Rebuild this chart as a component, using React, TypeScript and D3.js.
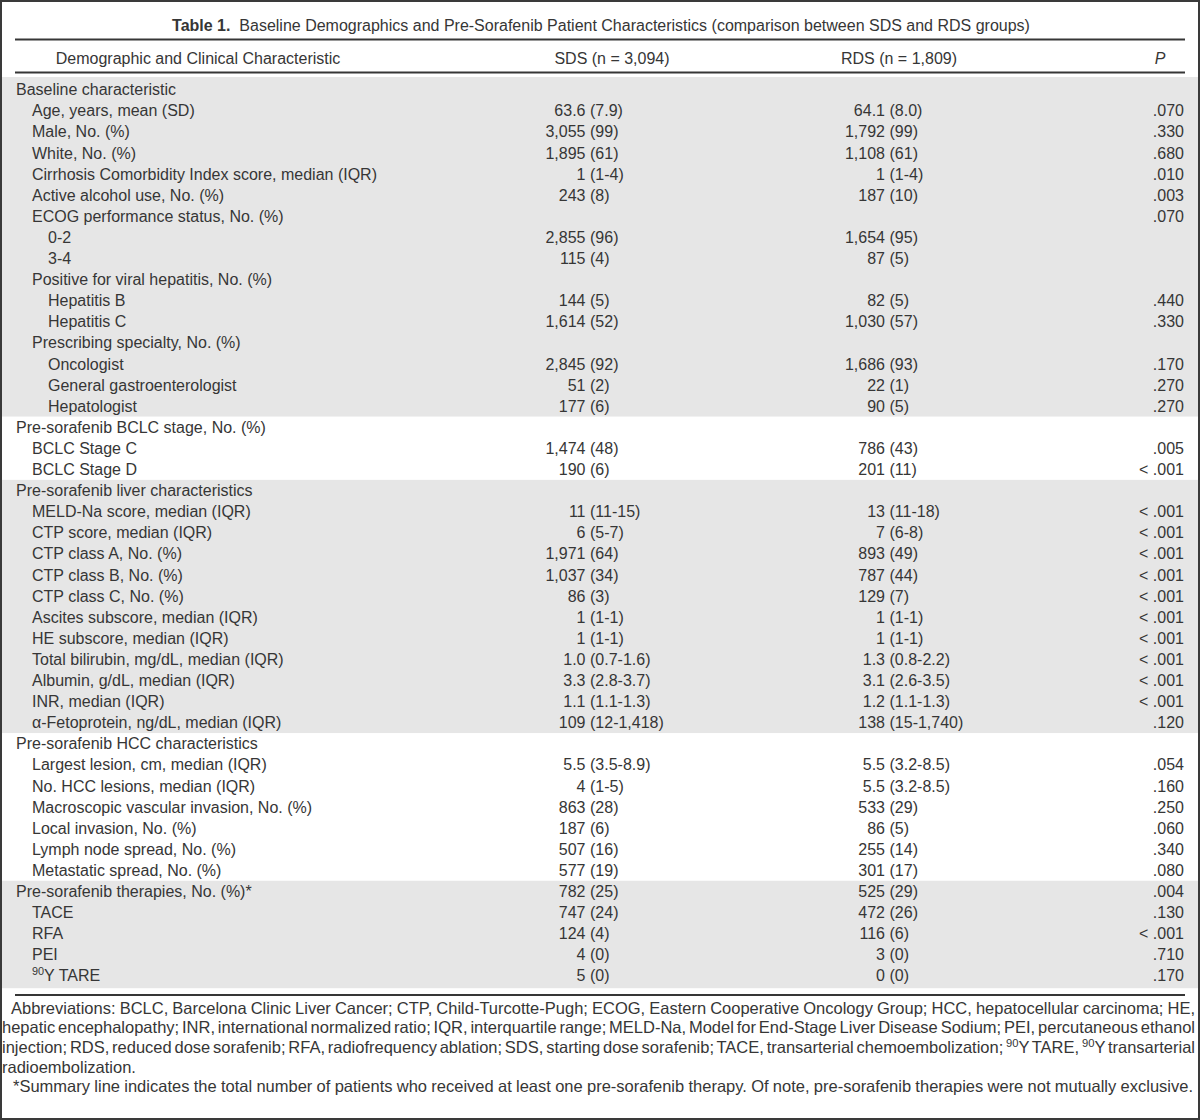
import { useEffect, useRef } from "react";
import * as d3 from "d3";

// table rows: indent level, label, SDS value, RDS value, P value
const levels = [
  0, 1, 1, 1, 1, 1, 1, 2, 2, 1, 2, 2, 1, 2, 2, 2,
  0, 1, 1,
  0, 1, 1, 1, 1, 1, 1, 1, 1, 1, 1, 1,
  0, 1, 1, 1, 1, 1, 1,
  0, 1, 1, 1, 1,
];

const labels = [
  "Baseline characteristic",
  "Age, years, mean (SD)",
  "Male, No. (%)",
  "White, No. (%)",
  "Cirrhosis Comorbidity Index score, median (IQR)",
  "Active alcohol use, No. (%)",
  "ECOG performance status, No. (%)",
  "0-2",
  "3-4",
  "Positive for viral hepatitis, No. (%)",
  "Hepatitis B",
  "Hepatitis C",
  "Prescribing specialty, No. (%)",
  "Oncologist",
  "General gastroenterologist",
  "Hepatologist",
  "Pre-sorafenib BCLC stage, No. (%)",
  "BCLC Stage C",
  "BCLC Stage D",
  "Pre-sorafenib liver characteristics",
  "MELD-Na score, median (IQR)",
  "CTP score, median (IQR)",
  "CTP class A, No. (%)",
  "CTP class B, No. (%)",
  "CTP class C, No. (%)",
  "Ascites subscore, median (IQR)",
  "HE subscore, median (IQR)",
  "Total bilirubin, mg/dL, median (IQR)",
  "Albumin, g/dL, median (IQR)",
  "INR, median (IQR)",
  "α-Fetoprotein, ng/dL, median (IQR)",
  "Pre-sorafenib HCC characteristics",
  "Largest lesion, cm, median (IQR)",
  "No. HCC lesions, median (IQR)",
  "Macroscopic vascular invasion, No. (%)",
  "Local invasion, No. (%)",
  "Lymph node spread, No. (%)",
  "Metastatic spread, No. (%)",
  "Pre-sorafenib therapies, No. (%)*",
  "TACE",
  "RFA",
  "PEI",
  "^90Y TARE",
];

const sdsValues = [
  "", "63.6 (7.9)", "3,055 (99)", "1,895 (61)", "1 (1-4)", "243 (8)", "",
  "2,855 (96)", "115 (4)", "", "144 (5)", "1,614 (52)", "", "2,845 (92)",
  "51 (2)", "177 (6)",
  "", "1,474 (48)", "190 (6)",
  "", "11 (11-15)", "6 (5-7)", "1,971 (64)", "1,037 (34)", "86 (3)",
  "1 (1-1)", "1 (1-1)", "1.0 (0.7-1.6)", "3.3 (2.8-3.7)", "1.1 (1.1-1.3)",
  "109 (12-1,418)",
  "", "5.5 (3.5-8.9)", "4 (1-5)", "863 (28)", "187 (6)", "507 (16)", "577 (19)",
  "782 (25)", "747 (24)", "124 (4)", "4 (0)", "5 (0)",
];

const rdsValues = [
  "", "64.1 (8.0)", "1,792 (99)", "1,108 (61)", "1 (1-4)", "187 (10)", "",
  "1,654 (95)", "87 (5)", "", "82 (5)", "1,030 (57)", "", "1,686 (93)",
  "22 (1)", "90 (5)",
  "", "786 (43)", "201 (11)",
  "", "13 (11-18)", "7 (6-8)", "893 (49)", "787 (44)", "129 (7)",
  "1 (1-1)", "1 (1-1)", "1.3 (0.8-2.2)", "3.1 (2.6-3.5)", "1.2 (1.1-1.3)",
  "138 (15-1,740)",
  "", "5.5 (3.2-8.5)", "5.5 (3.2-8.5)", "533 (29)", "86 (5)", "255 (14)", "301 (17)",
  "525 (29)", "472 (26)", "116 (6)", "3 (0)", "0 (0)",
];

const pValues = [
  "", ".070", ".330", ".680", ".010", ".003", ".070", "", "", "", ".440", ".330",
  "", ".170", ".270", ".270",
  "", ".005", "< .001",
  "", "< .001", "< .001", "< .001", "< .001", "< .001", "< .001", "< .001",
  "< .001", "< .001", "< .001", ".120",
  "", ".054", ".160", ".250", ".060", ".340", ".080",
  ".004", ".130", "< .001", ".710", ".170",
];

// shaded sections: [first row, last row]
const shaded = [
  [0, 15],
  [19, 30],
  [38, 42],
];

const headers = [
  "Demographic and Clinical Characteristic",
  "SDS (n = 3,094)",
  "RDS (n = 1,809)",
  "P",
];

const footLines = [
  "Abbreviations: BCLC, Barcelona Clinic Liver Cancer; CTP, Child-Turcotte-Pugh; ECOG, Eastern Cooperative Oncology Group; HCC, hepatocellular carcinoma; HE,",
  "hepatic encephalopathy; INR, international normalized ratio; IQR, interquartile range; MELD-Na, Model for End-Stage Liver Disease Sodium; PEI, percutaneous ethanol",
  "injection; RDS, reduced dose sorafenib; RFA, radiofrequency ablation; SDS, starting dose sorafenib; TACE, transarterial chemoembolization; ^90Y TARE, ^90Y transarterial",
  "radioembolization.",
  "*Summary line indicates the total number of patients who received at least one pre-sorafenib therapy. Of note, pre-sorafenib therapies were not mutually exclusive.",
];

const W = 1200;
const H = 1120;
const FONT = "'Liberation Sans', Arial, Helvetica, sans-serif";
const INK = "#363636";
const SHADE = "#e6e6e6";
const FOOT_SIZE = 16.5;

// text with ^90 style superscripts
const withSup = (s: string, size: number) => {
  const parts = s.split(/(\^\d+)/).filter((p) => p !== "");
  return parts.map((p, i) =>
    p.startsWith("^") ? (
      <tspan key={i} fontSize={size * 0.68} baselineShift="super">
        {p.slice(1)}
      </tspan>
    ) : (
      <tspan key={i}>{p}</tspan>
    )
  );
};

const footX0 = (i: number) => (i === 0 ? 11 : i === 4 ? 13 : 2);
const footX1 = (i: number) => (i === 4 ? 1193 : 1195);

const App = () => {
  const footRef = useRef<SVGGElement>(null);

  useEffect(() => {
    document.body.style.margin = "0";
    if (!footRef.current) return;
    // justify footnote lines by widening the word gaps
    d3.select(footRef.current)
      .selectAll<SVGTextElement, unknown>("text")
      .each(function (_, i) {
        if (i === 3) return;
        const el = this as SVGTextElement;
        el.setAttribute("word-spacing", "0");
        const natural = el.getComputedTextLength();
        const gaps = (footLines[i].match(/ /g) || []).length;
        const extra = (footX1(i) - footX0(i) - natural) / gaps;
        el.setAttribute("word-spacing", String(extra));
      });
  }, []);

  const y = d3
    .scaleLinear()
    .domain([0, labels.length - 1])
    .range([89.5, 89.5 + 21.1 * (labels.length - 1)]);
  const pitch = y(1) - y(0);

  const footY = d3
    .scaleLinear()
    .domain([0, footLines.length - 1])
    .range([1008, 1008 + 19.7 * (footLines.length - 1)]);

  const sdsSplit = 585.5;
  const rdsSplit = 885;
  const pRight = 1184;
  const lineX0 = 15;
  const lineX1 = 1185;

  const split = (v: string) => {
    const k = v.indexOf(" ");
    return [v.slice(0, k), v.slice(k + 1)];
  };

  const bandTop = (s: number) => (s === 0 ? 77 : y(s) - pitch / 2);
  const bandBottom = (e: number) =>
    e === labels.length - 1 ? y(e) + 12.5 : y(e) + pitch / 2;

  return (
    <svg
      width={W}
      height={H}
      style={{ display: "block" }}
      fontFamily={FONT}
      fill={INK}
    >
      <rect x={0} y={0} width={W} height={H} fill="#fff" />

      {/* shaded sections */}
      {shaded.map(([s, e], i) => (
        <rect
          key={i}
          x={0}
          y={bandTop(s)}
          width={W}
          height={bandBottom(e) - bandTop(s)}
          fill={SHADE}
        />
      ))}

      {/* title */}
      <text x={601} y={30.5} textAnchor="middle" fontSize={16}>
        <tspan fontWeight="bold">Table 1.</tspan>
        <tspan>
          {"\u00a0 Baseline Demographics and Pre-Sorafenib Patient Characteristics (comparison between SDS and RDS groups)"}
        </tspan>
      </text>

      {/* rules */}
      <line x1={lineX0} x2={lineX1} y1={39.5} y2={39.5} stroke={INK} strokeWidth={2} />
      <line x1={lineX0} x2={lineX1} y1={72.5} y2={72.5} stroke={INK} strokeWidth={2} />
      <line x1={lineX0} x2={lineX1} y1={995} y2={995} stroke={INK} strokeWidth={2} />

      {/* header */}
      <g fontSize={16}>
        <text x={198} y={64} textAnchor="middle">{headers[0]}</text>
        <text x={612} y={64} textAnchor="middle">{headers[1]}</text>
        <text x={899} y={64} textAnchor="middle">{headers[2]}</text>
        <text x={1160} y={64} textAnchor="middle" fontStyle="italic">{headers[3]}</text>
      </g>

      {/* body */}
      <g fontSize={16}>
        {labels.map((lab, i) => {
          const by = y(i) + 5.7;
          const sds = sdsValues[i];
          const rds = rdsValues[i];
          return (
            <g key={i}>
              <text x={16 + 16 * levels[i]} y={by}>
                {withSup(lab, 16)}
              </text>
              {sds && (
                <>
                  <text x={sdsSplit} y={by} textAnchor="end">{split(sds)[0]}</text>
                  <text x={sdsSplit + 4.5} y={by}>{split(sds)[1]}</text>
                </>
              )}
              {rds && (
                <>
                  <text x={rdsSplit} y={by} textAnchor="end">{split(rds)[0]}</text>
                  <text x={rdsSplit + 4.5} y={by}>{split(rds)[1]}</text>
                </>
              )}
              {pValues[i] && (
                <text x={pRight} y={by} textAnchor="end">{pValues[i]}</text>
              )}
            </g>
          );
        })}
      </g>

      {/* footnotes */}
      <g fontSize={FOOT_SIZE} ref={footRef}>
        {footLines.map((ln, i) => (
          <text key={i} x={footX0(i)} y={footY(i) + 5.5}>
            {withSup(ln, FOOT_SIZE)}
          </text>
        ))}
      </g>

      {/* frame */}
      <rect x={1} y={1} width={W - 2} height={H - 2} fill="none" stroke="#3a3a3a" strokeWidth={2} />
    </svg>
  );
};

export default App;
